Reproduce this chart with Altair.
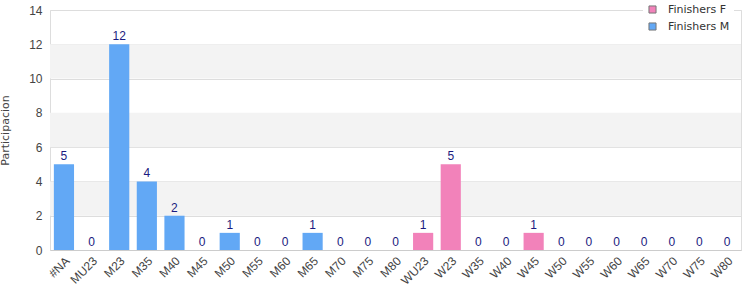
import altair as alt
import pandas as pd

categories = ["#NA", "MU23", "M23", "M35", "M40", "M45", "M50", "M55", "M60", "M65",
              "M70", "M75", "M80", "WU23", "W23", "W35", "W40", "W45", "W50", "W55",
              "W60", "W65", "W70", "W75", "W80"]
values = [5, 0, 12, 4, 2, 0, 1, 0, 0, 1, 0, 0, 0, 1, 5, 0, 0, 1, 0, 0, 0, 0, 0, 0, 0]
series = ["Finishers M"] * 13 + ["Finishers F"] * 12
y_ticks = [0, 2, 4, 6, 8, 10, 12, 14]

band_lo = [2, 6, 10]
band_hi = [4, 8, 12]

df = pd.DataFrame({"cat": categories, "val": values, "series": series})
bands = pd.DataFrame({"lo": band_lo, "hi": band_hi})

yscale = alt.Scale(domain=[0, 14], nice=False)
yaxis = alt.Axis(values=y_ticks, grid=True, gridColor="#dddddd",
                 ticks=False, domain=False, labelFontSize=12, labelColor="#444",
                 labelFont="Liberation Sans", labelPadding=8,
                 titleFont="DejaVu Sans", titleFontSize=11, titleFontWeight="normal",
                 titleColor="#444", titlePadding=18)

band_layer = alt.Chart(bands).mark_rect(color="#f3f3f3").encode(
    y=alt.Y("lo:Q", scale=yscale, axis=yaxis, title="Participacion"),
    y2="hi:Q",
)

bars = alt.Chart(df).mark_bar().encode(
    x=alt.X("cat:N", sort=categories, title=None,
            scale=alt.Scale(paddingInner=0.27, paddingOuter=0.14),
            axis=alt.Axis(labelAngle=-45, labelAlign="right", labelBaseline="top",
                          labelFontSize=12, labelColor="#444", labelFont="Liberation Sans",
                          ticks=False, domain=True, domainColor="#ccc", labelPadding=5)),
    y=alt.Y("val:Q", scale=yscale, axis=yaxis, title="Participacion"),
    color=alt.Color("series:N",
                    scale=alt.Scale(domain=["Finishers F", "Finishers M"],
                                    range=["#f282ba", "#62a8f5"]),
                    legend=alt.Legend(title=None, orient="none", legendX=593, legendY=-10,
                                      symbolType="square", symbolSize=50,
                                      symbolStrokeColor="#777", symbolStrokeWidth=1,
                                      labelFont="DejaVu Sans", labelFontSize=11,
                                      labelColor="#333", fillColor="white",
                                      padding=4, rowPadding=4, labelOffset=10,
                                      offset=0)),
)

labels = alt.Chart(df).mark_text(dy=-8, fontSize=12, color="#1a1a80",
                                  font="Liberation Sans").encode(
    x=alt.X("cat:N", sort=categories),
    y=alt.Y("val:Q", scale=yscale, axis=yaxis, title="Participacion"),
    text="val:Q",
)

chart = alt.layer(band_layer, bars, labels).properties(
    width=691, height=240,
    autosize=alt.AutoSizeParams(type="none"),
    padding={"left": 50, "top": 10, "right": 9, "bottom": 50},
).configure_view(stroke="#dddddd", strokeWidth=1)

chart.save("out.html", embed_options={"renderer": "svg", "actions": False})
